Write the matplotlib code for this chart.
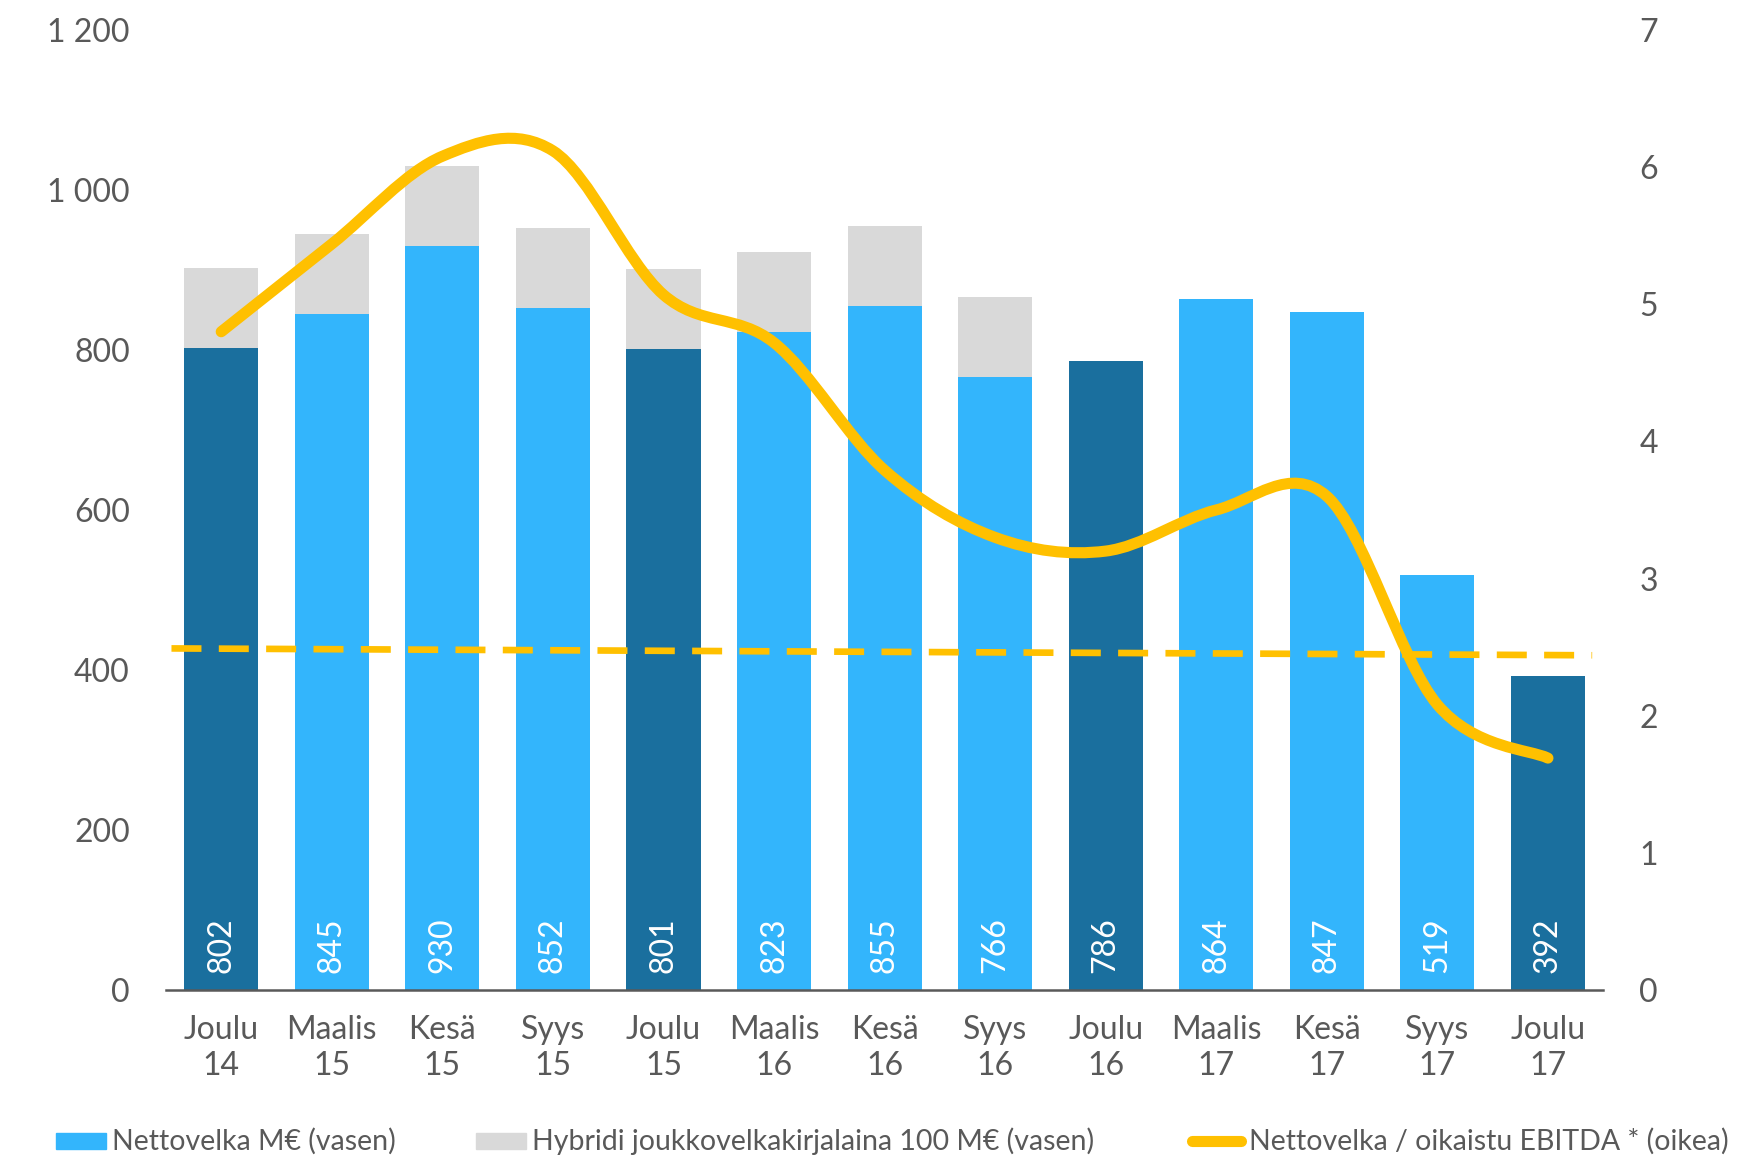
import numpy as np
import matplotlib.pyplot as plt
from matplotlib.path import Path
from matplotlib.patches import PathPatch, Rectangle
from matplotlib.lines import Line2D

plt.rcParams['font.family'] = ['Lato', 'DejaVu Sans']

quarters = ['Joulu\n14', 'Maalis\n15', 'Kesä\n15', 'Syys\n15', 'Joulu\n15', 'Maalis\n16',
            'Kesä\n16', 'Syys\n16', 'Joulu\n16', 'Maalis\n17', 'Kesä\n17', 'Syys\n17', 'Joulu\n17']
net_debt = [802, 845, 930, 852, 801, 823, 855, 766, 786, 864, 847, 519, 392]
hybrid = [100, 100, 100, 100, 100, 100, 100, 100, 0, 0, 0, 0, 0]
ratio = [4.80, 5.44, 6.08, 6.12, 5.07, 4.72, 3.79, 3.30, 3.20, 3.50, 3.60, 2.08, 1.69]
target = [2.49, 2.44]

dark = '#1a6f9e'
light = '#33b5fc'
grey = '#d9d9d9'
yellow = '#ffc000'
txt = '#595959'

fig = plt.figure(figsize=(17.56, 11.59), dpi=100)
ax = fig.add_axes([0.0945, 0.146, 0.8185, 0.828])
ax2 = ax.twinx()

x = np.arange(len(quarters))
colors = [dark if q.startswith('Joulu') else light for q in quarters]
ax.bar(x, net_debt, width=0.67, color=colors, zorder=2)
ax.bar(x, hybrid, width=0.67, bottom=net_debt, color=grey, zorder=2)
for xi, v in zip(x, net_debt):
    ax.annotate(str(v), (xi, 0), xytext=(0, 12), textcoords='offset points',
                rotation=90, ha='center', va='bottom', color='white', fontsize=23)

ax.set_xlim(-0.5, len(quarters) - 0.5)
ax.set_ylim(0, 1200)
ax.set_yticks(range(0, 1201, 200))
ax.set_yticklabels(['0', '200', '400', '600', '800', '1 000', '1 200'])
ax.set_xticks(x)
ax.set_xticklabels(quarters, linespacing=1.25)
ax.tick_params(length=0, labelsize=23, labelcolor=txt, pad=18)
ax.tick_params(axis='y', pad=26)
for s in ['top', 'right', 'left']:
    ax.spines[s].set_visible(False)
    ax2.spines[s].set_visible(False)
ax.spines['bottom'].set_color(txt)
ax.spines['bottom'].set_linewidth(1.8)
ax2.spines['bottom'].set_visible(False)

ax2.set_ylim(0, 7)
ax2.set_yticks(range(0, 8))
ax2.tick_params(length=0, labelsize=23, labelcolor=txt, pad=26)

# smooth line (catmull-rom drawn as bezier segments)
pts = np.column_stack([x, ratio])
verts = [tuple(pts[0])]
codes = [Path.MOVETO]
for i in range(len(pts) - 1):
    p0 = pts[max(i - 1, 0)]
    p1 = pts[i]
    p2 = pts[i + 1]
    p3 = pts[min(i + 2, len(pts) - 1)]
    c1 = p1 + (p2 - p0) / 6
    c2 = p2 - (p3 - p1) / 6
    verts += [tuple(c1), tuple(c2), tuple(p2)]
    codes += [Path.CURVE4] * 3
ax2.add_patch(PathPatch(Path(verts, codes), fill=False, edgecolor=yellow,
                        lw=8, capstyle='round', joinstyle='round', zorder=3))

ax2.plot([-0.45, 12.4], target, color=yellow, lw=4.8, dashes=(4.5, 2.6), zorder=3)

# legend
ly = 0.0155
fig.patches.append(Rectangle((0.0319, ly - 0.007), 0.0287, 0.014, transform=fig.transFigure,
                             color=light))
fig.text(0.0638, ly, 'Nettovelka M€ (vasen)', fontsize=20.5, color=txt, va='center')
fig.patches.append(Rectangle((0.271, ly - 0.007), 0.0287, 0.014, transform=fig.transFigure,
                             color=grey))
fig.text(0.303, ly, 'Hybridi joukkovelkakirjalaina 100 M€ (vasen)', fontsize=20.5,
         color=txt, va='center')
fig.lines.append(Line2D([0.679, 0.707], [ly, ly], transform=fig.transFigure,
                        color=yellow, lw=8, solid_capstyle='round'))
fig.text(0.711, ly, 'Nettovelka / oikaistu EBITDA * (oikea)', fontsize=20.5,
         color=txt, va='center')

fig.savefig('out.png', dpi=100)
